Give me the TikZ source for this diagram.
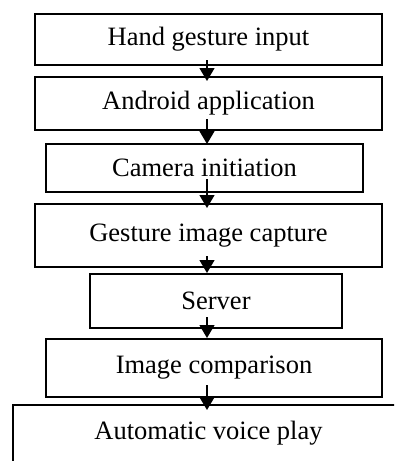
\documentclass[tikz,border=0pt]{standalone}
\usepackage{fontspec}
\setmainfont{Liberation Serif}
\usetikzlibrary{arrows.meta}

\begin{document}
\begin{tikzpicture}[
    x=1pt, y=-1pt,
    block/.style={rectangle,draw,line width=1.8pt,inner sep=0pt,outer sep=0pt,font=\fontsize{26.5}{30}\selectfont},
    flow/.style={line width=1.4pt,-{Triangle[width=15pt,length=13pt]}}
]
\path[use as bounding box,clip] (0,0) rectangle (394,461);

% Kroki
\node[block,minimum width=347pt,minimum height=51pt] (hand) at (208.5,39.5) {Hand gesture input};
\node[block,minimum width=347pt,minimum height=53pt] (android) at (208.5,103.5) {Android application};
\node[block,minimum width=317pt,minimum height=48pt] (camera) at (204.5,168) {Camera initiation};
\node[block,minimum width=347pt,minimum height=63pt] (capture) at (208.5,235.5) {Gesture image capture};
\node[block,minimum width=252pt,minimum height=54pt] (server) at (216,301) {Server};
\node[block,minimum width=336pt,minimum height=58pt] (compare) at (214,368) {Image comparison};
\node[block,draw=none,minimum width=391pt,minimum height=56pt] (play) at (208.5,433) {Automatic voice play};
\draw[line width=1.8pt] (play.north east) -- (play.north west) -- (play.south west);

% Oś strzałek
\coordinate (axis) at (207,0);

% Strzałki
\draw[flow] ([yshift=5pt]hand.south -| axis) -- ([yshift=-4pt]android.north -| axis);
\draw[flow] ([yshift=11pt]android.south -| axis) -- ([yshift=0pt]camera.north -| axis);
\draw[flow] ([yshift=13pt]camera.south -| axis) -- ([yshift=-4pt]capture.north -| axis);
\draw[flow] ([yshift=11pt]capture.south -| axis) -- ([yshift=1pt]server.north -| axis);
\draw[flow] ([yshift=11pt]server.south -| axis) -- ([yshift=1pt]compare.north -| axis);
\draw[flow] ([yshift=12pt]compare.south -| axis) -- ([yshift=-5pt]play.north -| axis);

\end{tikzpicture}
\end{document}
